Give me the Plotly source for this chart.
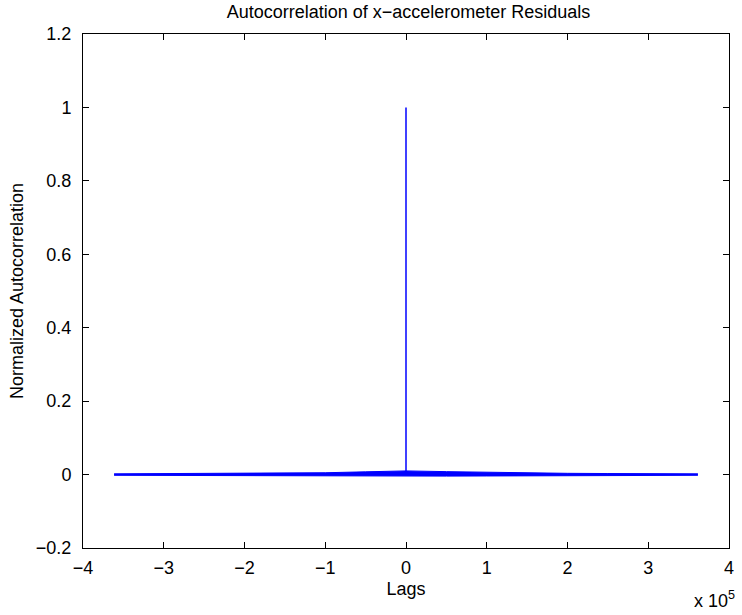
import plotly.graph_objects as go

# Envelope of the noisy autocorrelation band (lags, values)
band_lags = [-361500, -340000, -300000, -250000, -200000, -150000, -100000, -50000,
             0, 50000, 100000, 150000, 200000, 250000, 300000, 340000, 361500]
band_upper = [0.0020, 0.0022, 0.0025, 0.0028, 0.0032, 0.0038, 0.0050, 0.0075,
              0.0100, 0.0080, 0.0058, 0.0042, 0.0034, 0.0028, 0.0025, 0.0022, 0.0020]
band_lower = [-0.0020, -0.0022, -0.0025, -0.0028, -0.0030, -0.0033, -0.0038, -0.0042,
              -0.0045, -0.0042, -0.0038, -0.0033, -0.0030, -0.0028, -0.0025, -0.0022, -0.0020]

# Zero-lag spike
spike_lags = [0, 0]
spike_vals = [0.0, 1.0]

x_tickvals = [-400000, -300000, -200000, -100000, 0, 100000, 200000, 300000, 400000]
x_ticktext = ["\u22124", "\u22123", "\u22122", "\u22121", "0", "1", "2", "3", "4"]
y_tickvals = [-0.2, 0, 0.2, 0.4, 0.6, 0.8, 1.0, 1.2]
y_ticktext = ["\u22120.2", "0", "0.2", "0.4", "0.6", "0.8", "1", "1.2"]

blue = "#0000ff"
fig = go.Figure()
fig.add_trace(go.Scatter(x=band_lags, y=band_lower, mode="lines",
                         line=dict(color=blue, width=1), hoverinfo="skip", showlegend=False))
fig.add_trace(go.Scatter(x=band_lags, y=band_upper, mode="lines", fill="tonexty",
                         fillcolor=blue, line=dict(color=blue, width=1), showlegend=False))
fig.add_trace(go.Scatter(x=spike_lags, y=spike_vals, mode="lines",
                         line=dict(color=blue, width=1.5), showlegend=False))

font = "Liberation Sans, Arial, Helvetica, sans-serif"
fs = 18
axis_common = dict(showline=True, linecolor="black", linewidth=1, mirror="ticks",
                   ticks="inside", ticklen=6, tickcolor="black", showgrid=False,
                   zeroline=False, tickfont=dict(family=font, size=fs, color="black"))

fig.update_xaxes(range=[-400000, 400000], tickvals=x_tickvals, ticktext=x_ticktext,
                 ticklabelstandoff=3,
                 title=dict(text="Lags", font=dict(family=font, size=fs, color="black"),
                            standoff=5), **axis_common)
fig.update_yaxes(range=[-0.2, 1.2], tickvals=y_tickvals, ticktext=y_ticktext,
                 ticklabelstandoff=7,
                 title=dict(text="Normalized Autocorrelation",
                            font=dict(family=font, size=fs, color="black"), standoff=7),
                 **axis_common)

fig.update_layout(
    width=742, height=615,
    margin=dict(l=83, r=8, t=34, b=67),
    paper_bgcolor="white", plot_bgcolor="white",
    title=dict(text="Autocorrelation of x\u2212accelerometer Residuals",
               font=dict(family=font, size=fs, color="black"),
               x=408.5 / 742, xanchor="center", y=1 - 12 / 615, yanchor="middle"),
    annotations=[dict(text="x 10<sup>5</sup>", xref="paper", yref="paper",
                      x=1.012, y=-0.1, xanchor="right", yanchor="middle", showarrow=False,
                      font=dict(family=font, size=fs, color="black"))],
)

fig.write_html("out.html")
